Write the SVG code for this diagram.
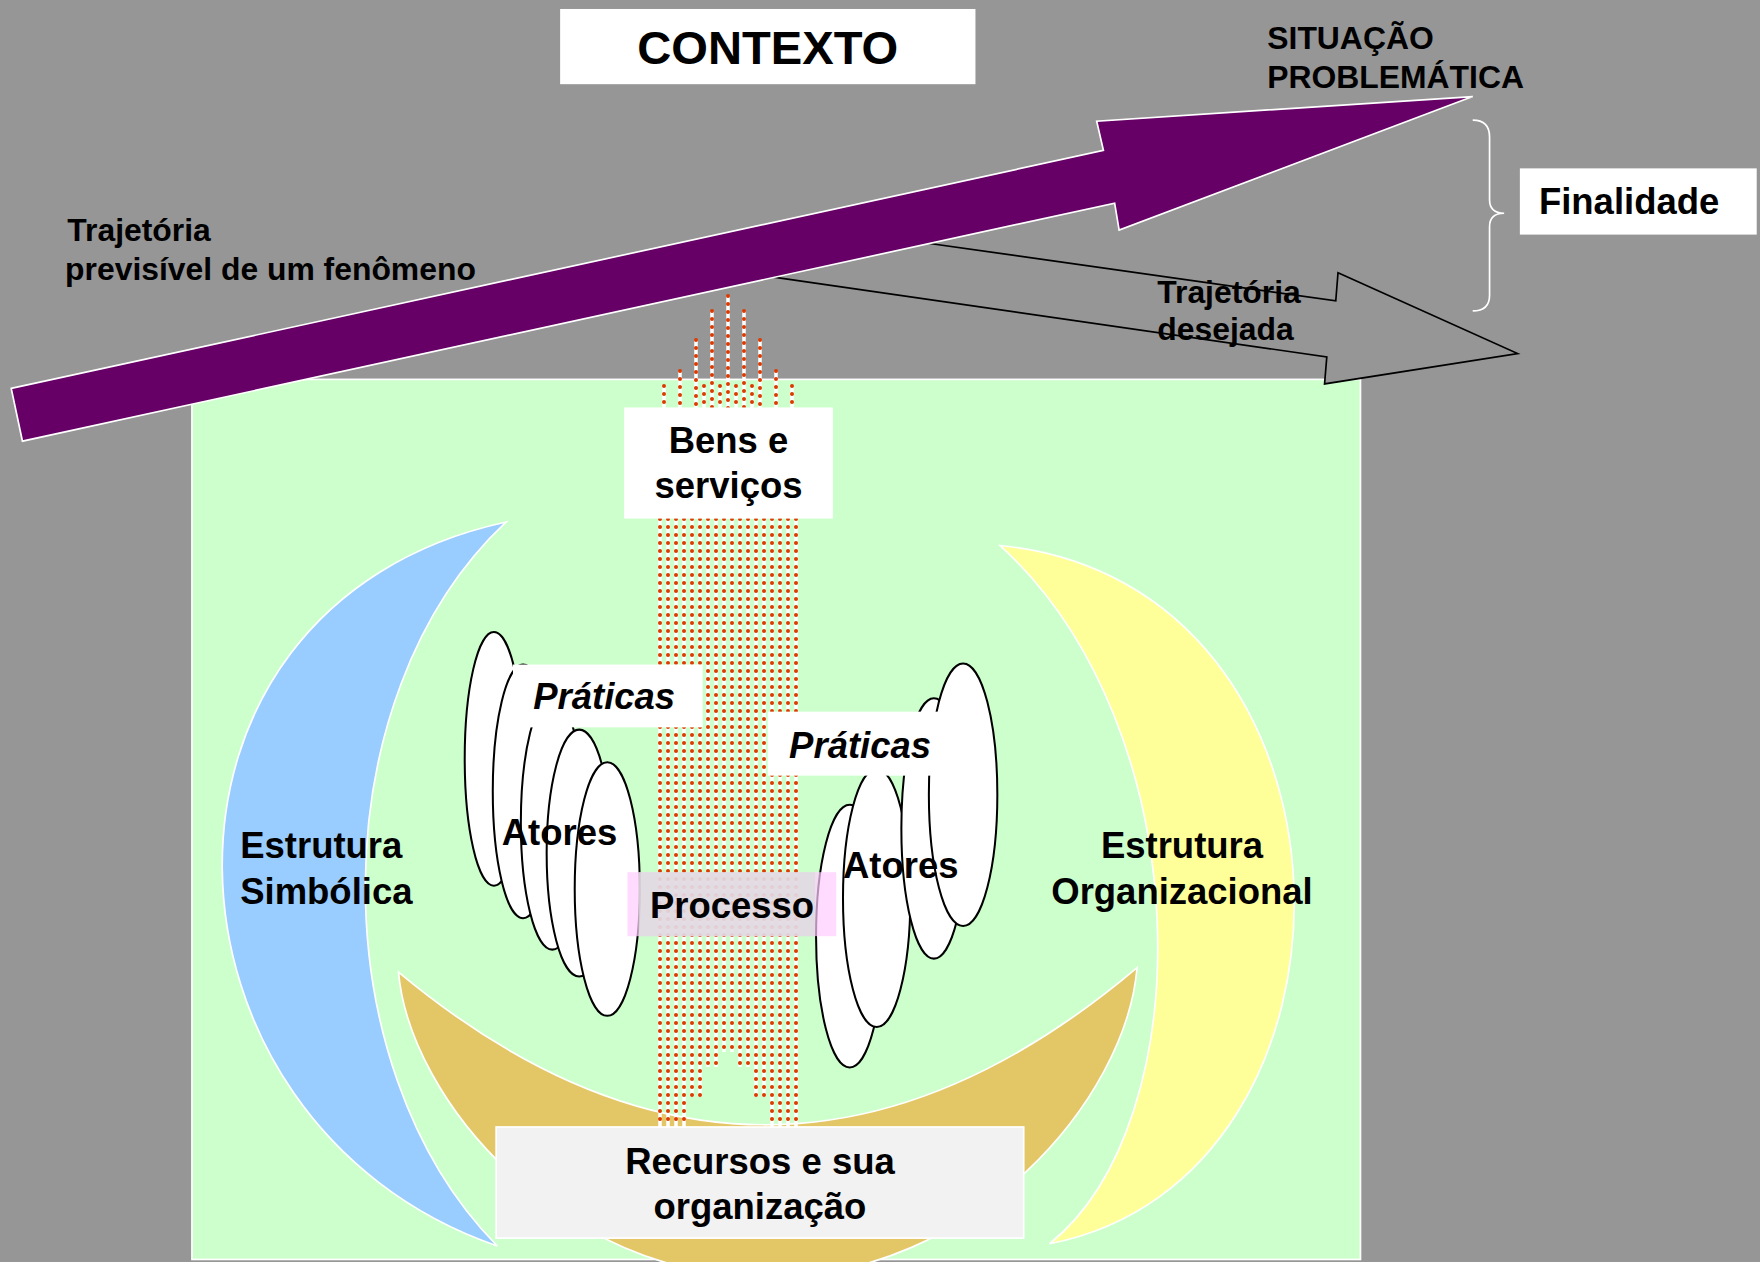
<svg xmlns="http://www.w3.org/2000/svg" width="1760" height="1262" viewBox="0 0 1760 1262">
<style>
.t{font-family:"Liberation Sans",Arial,sans-serif;font-weight:bold;fill:#000}
.s28{font-size:28.4px}
.s32{font-size:32.5px}
.it{font-style:italic}
.mid{text-anchor:middle}
.box{fill:#fff}
.ell{fill:#fff;stroke:#000;stroke-width:1.8}
.cres{stroke:#fff;stroke-width:1.5}
.dw{fill:none;stroke:#fff;stroke-width:3.5}
.dr{fill:none;stroke:#dc3a00;stroke-width:4;stroke-linecap:round;stroke-dasharray:0 8}
</style>
<rect width="1760" height="1262" fill="#969696"/>
<g transform="scale(1.1225)">
  <g id="context-area"><rect x="171" y="338" width="1041" height="784" fill="#ccffcc" stroke="#fff" stroke-width="1.5"/></g>
  <g id="connectors">
    <polygon points="822,216 1190,268 1192,243 1352,315 1180,342 1182,318 683,246" fill="#969696" stroke="#000" stroke-width="1.5"/>
    <polygon points="10,346 983,134 977,108 1312,86 997,205 993,181 20,393" fill="#660066" stroke="#fff" stroke-width="1.5"/>
    <path d="M1312,107 Q1327,107 1327,122 L1327,178 Q1327,190 1340,190 Q1327,190 1327,202 L1327,263 Q1327,277 1312,277" fill="none" stroke="#fff" stroke-width="1.5"/>
  </g>
  <g id="estrutura-simbolica-shape"><path class="cres" fill="#99ccff" d="M451,465 C105,540 125,1000 443,1110 C285,950 285,620 451,465 Z"/></g>
  <g id="estrutura-organizacional-shape"><path class="cres" fill="#ffff99" d="M891,486 C1230,520 1235,1050 935,1108 C1070,1000 1070,650 891,486 Z"/></g>
  <g id="recursos-shape"><path class="cres" fill="#e3c767" d="M355,866 C365,980 500,1138 684,1138 C868,1138 1003,980 1013,862 Q684,1140 355,866 Z"/></g>
  <g id="atores-esquerda">
    <ellipse class="ell" cx="440" cy="676" rx="26" ry="113"/>
    <ellipse class="ell" cx="466" cy="705" rx="27" ry="113"/>
    <ellipse class="ell" cx="492" cy="733" rx="28" ry="113"/>
    <ellipse class="ell" cx="516" cy="760" rx="29" ry="110"/>
    <ellipse class="ell" cx="541" cy="792" rx="29" ry="113"/>
  </g>
  <g id="atores-direita">
    <ellipse class="ell" cx="757" cy="834" rx="30" ry="117"/>
    <ellipse class="ell" cx="781" cy="800" rx="30" ry="115"/>
    <ellipse class="ell" cx="832" cy="738" rx="29" ry="116"/>
    <ellipse class="ell" cx="858" cy="708" rx="30.5" ry="117"/>
  </g>
</g>
<g id="processo-fluxo">
  <path class="dw" d="M664 386V519M680 371V519M696 340V519M712 311V519M728 296V519M744 311V519M760 340V519M776 371V519M792 386V519M704 386V519M720 386V519M736 386V519M752 386V519
  M660 519V1127M668 519V1127M676 519V1127M684 519V1127M692 519V1097M700 519V1097M708 519V1067M716 519V1067M724 519V1052M732 519V1052M740 519V1067M748 519V1067M756 519V1097M764 519V1097M772 519V1127M780 519V1127M788 519V1127M796 519V1127"/>
  <path class="dr" d="M664 386V519M680 371V519M696 340V519M712 311V519M728 296V519M744 311V519M760 340V519M776 371V519M792 386V519M704 386V519M720 386V519M736 386V519M752 386V519
  M660 519V1127M668 519V1127M676 519V1127M684 519V1127M692 519V1097M700 519V1097M708 519V1067M716 519V1067M724 519V1052M732 519V1052M740 519V1067M748 519V1067M756 519V1097M764 519V1097M772 519V1127M780 519V1127M788 519V1127M796 519V1127"/>
</g>
<g transform="scale(1.1225)">
  <g id="contexto"><rect class="box" x="499" y="8" width="370" height="67"/><text class="t mid" x="684" y="57" font-size="42">CONTEXTO</text></g>
  <g id="situacao"><text class="t s28" x="1129" y="44">SITUAÇÃO</text><text class="t s28" x="1129" y="78">PROBLEMÁTICA</text></g>
  <g id="trajetoria-previsivel"><text class="t s28" x="60" y="215">Trajetória</text><text class="t s28" x="58" y="249">previsível de um fenômeno</text></g>
  <g id="trajetoria-desejada"><text class="t s28" x="1031" y="270">Trajetória</text><text class="t s28" x="1031" y="303">desejada</text></g>
  <g id="finalidade"><rect class="box" x="1354" y="150" width="211" height="59"/><text class="t s32" x="1371" y="191">Finalidade</text></g>
  <g id="bens"><rect class="box" x="556" y="363" width="186" height="99"/><text class="t s32 mid" x="649" y="404">Bens e</text><text class="t s32 mid" x="649" y="444">serviços</text></g>
  <g id="estrutura-simbolica"><text class="t s32" x="214" y="764">Estrutura</text><text class="t s32" x="214" y="805">Simbólica</text></g>
  <g id="estrutura-organizacional"><text class="t s32 mid" x="1053" y="764">Estrutura</text><text class="t s32 mid" x="1053" y="805">Organizacional</text></g>
  <g id="praticas-esquerda"><rect class="box" x="457" y="592" width="169" height="56"/><text class="t s32 it" x="475" y="632">Práticas</text></g>
  <g id="praticas-direita"><rect class="box" x="684" y="634" width="153" height="57"/><text class="t s32 it" x="703" y="675">Práticas</text></g>
  <g id="atores-esquerda-label"><text class="t s32" x="447" y="753">Atores</text></g>
  <g id="atores-direita-label"><text class="t s32" x="751" y="782">Atores</text></g>
  <g id="processo"><rect x="559" y="777" width="186" height="57" fill="#ffccff" opacity="0.7"/><rect x="569" y="777" width="157" height="57" fill="#dcdcdc" opacity="0.75"/><text class="t s32" x="579" y="818">Processo</text></g>
  <g id="recursos"><rect x="442" y="1004" width="470" height="99" fill="#f2f2f2" stroke="#fff" stroke-width="1.5"/><text class="t s32 mid" x="677" y="1046">Recursos e sua</text><text class="t s32 mid" x="677" y="1086">organização</text></g>
</g>
</svg>
